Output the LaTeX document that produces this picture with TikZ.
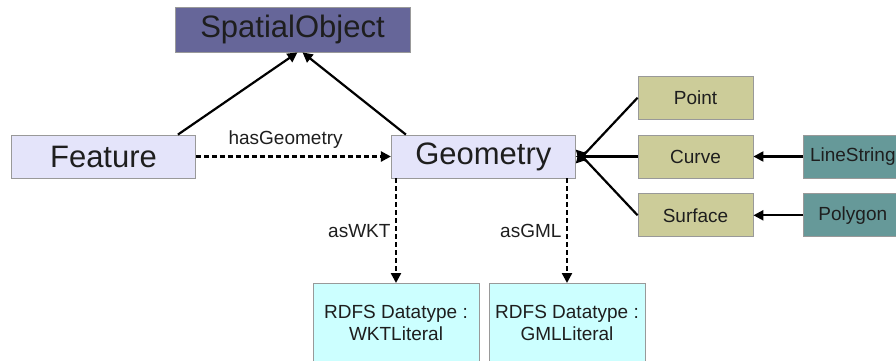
\documentclass[tikz,border=0pt]{standalone}
\usepackage{fontspec}
\setmainfont{Liberation Sans}
\usetikzlibrary{arrows.meta,positioning}

\definecolor{lavender}{HTML}{E4E4FA}
\definecolor{slate}{HTML}{666699}
\definecolor{khaki}{HTML}{CCCC99}
\definecolor{teal}{HTML}{669999}
\definecolor{paleblue}{HTML}{CCFFFF}
\definecolor{ink}{HTML}{1E1E1E}

\begin{document}
\begin{tikzpicture}[x=1pt, y=-1pt, node distance=15pt, >={Triangle[length=10pt,width=10pt]},
                    line width=2.2pt,
                    box/.style={draw=black!40, line width=0.8pt, inner sep=0pt, text=ink},
                    class node/.style={box, fill=lavender, minimum width=184pt, minimum height=43pt, font=\fontsize{31}{36}\selectfont},
                    geom node/.style={box, fill=khaki, minimum width=115pt, minimum height=43pt, font=\fontsize{19}{22}\selectfont},
                    leaf node/.style={box, fill=teal, minimum width=98pt, minimum height=43pt, font=\fontsize{19}{22}\selectfont},
                    type node/.style={box, fill=paleblue, minimum height=80pt, align=center, font=\fontsize{19}{22}\selectfont},
                    dash line/.style={->, line width=2.4pt, dash pattern=on 5pt off 3pt}]

  \useasboundingbox (0,0) rectangle (896,361);

  \node[box, fill=slate, minimum width=235pt, minimum height=45pt, font=\fontsize{31}{36}\selectfont] (spatial) at (292.5,29.5) {SpatialObject};
  \node[class node] (feature) at (103.5,156.5) {Feature};
  \node[class node] (geometry) [right=195pt of feature] {Geometry};

  \node[geom node] (curve) at (695.5,156.5) {Curve};
  \node[geom node] (point) [above=15pt of curve] {Point};
  \node[geom node] (surface) [below=15pt of curve] {Surface};
  \node[leaf node] (linestring) [right=50pt of curve] {LineString};
  \node[leaf node] (polygon) [right=50pt of surface] {Polygon};

  \node[type node, minimum width=166pt, anchor=north] (wkt) at (396,283) {RDFS Datatype :\\WKTLiteral};
  \node[type node, minimum width=156pt, anchor=north] (gml) at (567,283) {RDFS Datatype :\\GMLLiteral};

  % generalisation
  \draw[->] ([xshift=-18pt]feature.north east) -- ([xshift=5pt]spatial.south);
  \draw[->] ([xshift=15pt]geometry.north west) -- ([xshift=10pt]spatial.south);
  \draw[->] (point.west) -- ([yshift=-7pt]geometry.east);
  \draw[->] (curve) -- (geometry);
  \draw[->] (surface.west) -- ([yshift=7pt]geometry.east);
  \draw[->] (linestring) -- (curve);
  \draw[->] (polygon) -- (surface);

  % properties
  \path[every node/.style={font=\fontsize{19}{22}\selectfont, text=ink}]
  (feature) edge[dash line] node[above=4pt, pos=0.46] {hasGeometry} (geometry)
  (wkt.north |- geometry.south) edge[dash line] node[left=1pt] {asWKT} (wkt.north)
  (gml.north |- geometry.south) edge[dash line] node[left=1pt] {asGML} (gml.north)
  ;
\end{tikzpicture}
\end{document}
